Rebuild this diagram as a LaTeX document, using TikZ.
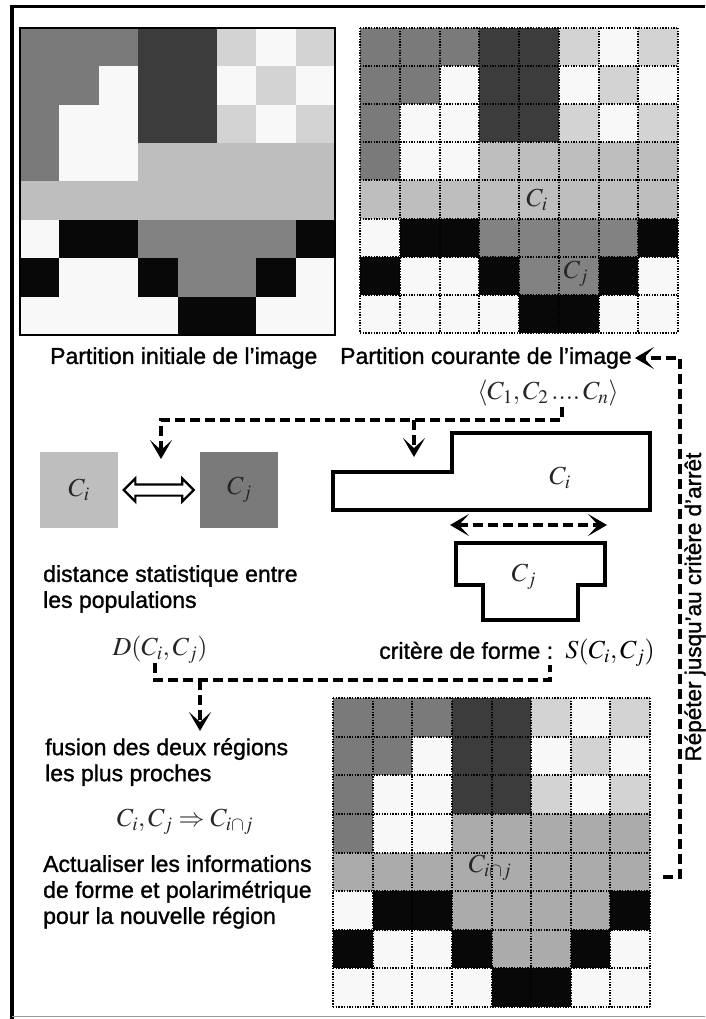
\documentclass[tikz,border=0pt]{standalone}
\usepackage{mathptmx}
\usepackage[no-math]{fontspec}
\setmainfont{Liberation Sans}[FakeBold=1.2]
\usetikzlibrary{arrows.meta, shapes.arrows, positioning}

\definecolor{cellM}{HTML}{7A7A7A}
\definecolor{cellD}{HTML}{3C3C3C}
\definecolor{cellL}{HTML}{D3D3D3}
\definecolor{cellW}{HTML}{F8F8F8}
\definecolor{cellG}{HTML}{BEBEBE}
\definecolor{cellK}{HTML}{080808}
\definecolor{cellN}{HTML}{828282}
\definecolor{cellH}{HTML}{ABABAB}

\tikzset{
  lbl/.style={inner sep=0pt, font=\fontsize{23}{26}\selectfont, align=left},
  mlbl/.style={inner sep=0pt, font=\fontsize{26}{30}\selectfont, text=black!85},
  flow/.style={line width=3.4pt, dash pattern=on 10pt off 5pt},
  flowarrow/.style={flow, -{Stealth[length=19pt,width=22pt,inset=10pt]}},
  flowboth/.style={flow, {Stealth[length=19pt,width=22pt,inset=10pt]}-{Stealth[length=19pt,width=22pt,inset=10pt]}},
  regionline/.style={line width=3.6pt, line join=miter},
  dotline/.style={line width=2pt, dash pattern=on 1.4pt off 1.3pt},
}

% x0, y0, largeur, hauteur d'une case, lignes
\newcommand{\regiongrid}[5]{%
  \foreach \rowdata [count=\r from 0] in #5 {
    \foreach \c [count=\k from 0] in \rowdata {
      \fill[fill=cell\c] (#1+\k*#3, #2+\r*#4) rectangle ++(#3,#4);
    }
  }
}
\newcommand{\dottedgrid}[4]{%
  \foreach \i in {0,...,8} {
    \draw[dotline] (#1+\i*#3, #2) -- ++(0, 8*#4);
    \draw[dotline] (#1, #2+\i*#4) -- ++(8*#3, 0);
  }
}
\newcommand{\initrows}{{M,M,M,D,D,L,W,L},{M,M,W,D,D,W,L,W},{M,W,W,D,D,L,W,L},{M,W,W,G,G,G,G,G},{G,G,G,G,G,G,G,G},{W,K,K,N,N,N,N,K},{K,W,W,K,N,N,K,W},{W,W,W,W,K,K,W,W}}
\newcommand{\mergedrows}{{M,M,M,D,D,L,W,L},{M,M,W,D,D,W,L,W},{M,W,W,D,D,L,W,L},{M,W,W,H,H,H,H,H},{H,H,H,H,H,H,H,H},{W,K,K,H,H,H,H,K},{K,W,W,K,H,H,K,W},{W,W,W,W,K,K,W,W}}
\newcommand{\mathlbl}[1]{{\fontsize{26}{30}\selectfont$#1$}}

\begin{document}
\begin{tikzpicture}[x=1pt, y=-1pt]
  \fill[white] (0,0) rectangle (705,1019);
  \useasboundingbox (0,0) rectangle (705,1019);

  % cadre
  \draw[line width=3pt] (10,6.5) -- (705,6.5);
  \draw[line width=4pt] (12,5) -- (12,1019);
  \draw[black!40, line width=1pt] (12,1016.5) -- (705,1016.5);

  % partitions
  \regiongrid{20}{28}{39.375}{38.375}{\initrows}
  \draw[line width=2.4pt] (20,28) rectangle (335,335);

  \regiongrid{360}{28}{39.75}{38.125}{\initrows}
  \dottedgrid{360}{28}{39.75}{38.125}
  \node[mlbl] (cigrid) at (537,200) {$C_i$};
  \node[mlbl] (cjgrid) at (576,274) {$C_j$};

  \regiongrid{333}{698}{39.625}{38.625}{\mergedrows}
  \dottedgrid{333}{698}{39.625}{38.625}
  \node[mlbl] (cijgrid) at (490,868) {$C_{i\cap j}$};

  \node[lbl, anchor=west] (initlabel) at (50,358) {Partition initiale de l'image};
  \node[lbl, anchor=west] (curlabel) at (340,358) {Partition courante de l'image};
  \node[mlbl] (cnlist) at (548,393) {$\langle C_1, C_2\,....\,C_n\rangle$};

  % distance entre populations
  \node[mlbl, fill=cellG, minimum width=78pt, minimum height=76pt] (cisq) at (79,490) {$C_i$};
  \node[mlbl, fill=cellM, minimum width=78pt, minimum height=76pt, right=82pt of cisq] (cjsq) {$C_j$};
  \node[double arrow, draw, fill=white, line width=2.2pt, minimum height=70pt, minimum width=23pt,
        double arrow head extend=6pt, inner sep=4.5pt, right=4pt of cisq] (eqarrow) {};

  \node[lbl, anchor=north west] (distlabel) at (43,565) {distance statistique entre\\les populations};
  \node[mlbl] (dmath) at (160,650) {$D(C_i,C_j)$};

  % critere de forme
  \draw[regionline] (333,472) -- (452,472) -- (452,433) -- (650,433) -- (650,510) -- (333,510) -- cycle;
  \node[mlbl] (cishape) at (560,478) {$C_i$};
  \draw[regionline] (456,543) -- (605,543) -- (605,585) -- (578,585) -- (578,620)
    -- (483,620) -- (483,585) -- (456,585) -- cycle;
  \node[mlbl] (cjshape) at (524,577) {$C_j$};
  \node[lbl, anchor=east] (critlabel) at (655,653) {critère de forme :\, \mathlbl{S(C_i,C_j)}};

  % fusion
  \node[lbl, anchor=north west] (fuslabel) at (45,738) {fusion des deux régions\\les plus proches};
  \node[mlbl] (mergemath) at (185,822) {$C_i,C_j \Rightarrow C_{i\cap j}$};
  \node[lbl, anchor=north west] (updlabel) at (43,855)
    {Actualiser les informations\\de forme et polarimétrique\\pour la nouvelle région};

  \node[lbl, rotate=90, anchor=base, font=\fontsize{22.5}{26}\selectfont] (repeatlabel) at (701,607)
    {Répéter jusqu'au critère d'arrêt};

  % liaisons
  \coordinate (listfoot) at (562,407);
  \coordinate (listbend) at (562,420);
  \coordinate (pairtip) at (161,459);
  \coordinate (shapetip) at (414,457);
  \draw[flowarrow] (listfoot) |- (pairtip |- listbend) -- (pairtip);
  \draw[flowarrow] (shapetip |- listbend) -- (shapetip);

  \coordinate (gapL) at (450,525);
  \coordinate (gapR) at (607,525);
  \draw[flowboth] (gapL) -- (gapR);

  \coordinate (dfoot) at (155,663);
  \coordinate (sfoot) at (550,665);
  \coordinate (mergerow) at (0,680);
  \coordinate (fusiontip) at (200,731);
  \draw[flow] (dfoot) |- (sfoot |- mergerow) -- (sfoot);
  \draw[flowarrow] (fusiontip |- mergerow) -- (fusiontip);

  \coordinate (loopstart) at (663,877);
  \draw[flowarrow] (loopstart) -- ++(17,0) |- ([xshift=3pt]curlabel.east);
\end{tikzpicture}
\end{document}
